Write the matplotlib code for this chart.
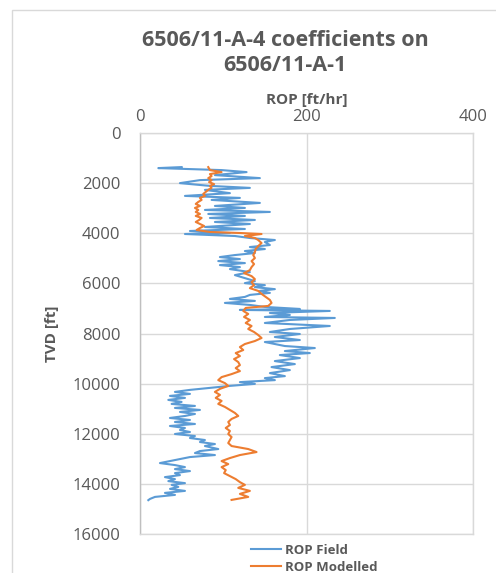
import matplotlib.pyplot as plt
from matplotlib.patches import Rectangle

# ROP Field: TVD [ft] and ROP [ft/hr]
field_tvd = [1360, 1400, 1480, 1560, 1680, 1800, 1880, 2000, 2110, 2190, 2270, 2400,
             2510, 2590, 2670, 2790, 2910, 2990, 3070, 3150, 3230, 3310, 3390, 3470,
             3550, 3630, 3750, 3830, 3910, 3990, 4030, 4110, 4190, 4270, 4350, 4470,
             4550, 4630, 4710, 4790, 4870, 4950, 5030, 5110, 5190, 5270, 5350, 5430,
             5550, 5670, 5790, 5910, 5990, 6070, 6150, 6230, 6300, 6380, 6460, 6540,
             6620, 6700, 6780, 6860, 6940, 7020, 7060, 7100, 7180, 7260, 7340, 7380,
             7460, 7580, 7700, 7820, 7940, 8020, 8140, 8260, 8340, 8420, 8500, 8580,
             8700, 8780, 8860, 8980, 9100, 9220, 9340, 9460, 9580, 9700, 9780, 9860,
             9940, 10010, 10090, 10170, 10250, 10330, 10410, 10490, 10570, 10650, 10730,
             10810, 10890, 10970, 11050, 11130, 11210, 11290, 11370, 11450, 11530, 11610,
             11690, 11770, 11850, 11930, 12010, 12090, 12170, 12250, 12330, 12410, 12490,
             12610, 12690, 12770, 12850, 12930, 13010, 13090, 13170, 13250, 13330, 13410,
             13490, 13570, 13650, 13730, 13810, 13890, 13970, 14040, 14120, 14200, 14280,
             14360, 14440, 14520, 14600, 14650]
field_rop = [50, 22, 98, 128, 90, 144, 72, 48, 84, 132, 78, 108,
             54, 120, 86, 144, 90, 126, 78, 156, 82, 126, 84, 138,
             90, 132, 78, 126, 60, 108, 54, 114, 132, 162, 150, 156,
             132, 150, 126, 138, 114, 96, 120, 94, 126, 96, 120, 108,
             132, 114, 126, 138, 126, 150, 138, 162, 144, 156, 132, 126,
             108, 138, 102, 132, 150, 192, 120, 228, 156, 180, 150, 234,
             180, 150, 228, 180, 156, 192, 162, 192, 150, 162, 174, 210,
             174, 204, 168, 192, 162, 186, 158, 180, 156, 174, 150, 162,
             120, 138, 108, 84, 60, 42, 60, 36, 54, 34, 50,
             38, 66, 42, 72, 48, 66, 54, 36, 60, 42, 66,
             36, 54, 48, 60, 42, 66, 60, 78, 72, 90, 78,
             94, 72, 66, 90, 60, 48, 36, 24, 42, 54, 42,
             60, 42, 48, 30, 42, 34, 54, 38, 46, 36, 54,
             30, 42, 18, 12, 10]

# ROP Modelled
model_tvd = [1360, 1480, 1560, 1640, 1720, 1800, 1880, 1960, 2040, 2110, 2190, 2270,
             2350, 2430, 2510, 2590, 2670, 2750, 2830, 2910, 2990, 3070, 3150, 3230,
             3310, 3390, 3470, 3550, 3630, 3710, 3790, 3870, 3950, 3990, 4030, 4110,
             4190, 4270, 4390, 4510, 4630, 4750, 4870, 4990, 5110, 5230, 5350, 5470,
             5590, 5710, 5830, 5950, 6070, 6190, 6300, 6420, 6540, 6660, 6780, 6900,
             6980, 7100, 7220, 7340, 7460, 7580, 7700, 7820, 7940, 8060, 8180, 8300,
             8420, 8540, 8660, 8780, 8900, 9020, 9140, 9260, 9380, 9500, 9620, 9740,
             9860, 9980, 10090, 10210, 10330, 10450, 10570, 10690, 10810, 10930, 11050,
             11170, 11290, 11410, 11530, 11650, 11770, 11890, 12010, 12130, 12250, 12370,
             12490, 12610, 12730, 12850, 12970, 13090, 13210, 13330, 13450, 13570, 13690,
             13810, 13930, 14040, 14160, 14280, 14400, 14520, 14640]
model_rop = [82, 84, 98, 84, 86, 82, 86, 83, 89, 84, 86, 82,
             79, 76, 78, 72, 74, 70, 67, 72, 66, 70, 67, 72,
             67, 74, 71, 67, 72, 77, 72, 68, 84, 120, 146, 126,
             138, 142, 146, 142, 139, 138, 136, 138, 134, 137, 134, 132,
             125, 134, 138, 134, 137, 132, 142, 146, 151, 156, 158, 154,
             127, 124, 130, 125, 132, 127, 134, 130, 137, 142, 146, 138,
             126, 120, 124, 115, 120, 113, 118, 120, 115, 120, 110, 98,
             94, 102, 106, 96, 90, 96, 91, 98, 94, 102, 108,
             114, 118, 110, 106, 108, 103, 108, 106, 110, 108, 106,
             110, 130, 140, 120, 108, 98, 106, 98, 103, 101, 108,
             115, 120, 126, 118, 132, 120, 130, 110]

x_ticks = [0, 200, 400]
y_ticks = [0, 2000, 4000, 6000, 8000, 10000, 12000, 14000, 16000]

grey_text = "#595959"
grid_col = "#d9d9d9"
plt.rcParams["font.family"] = ["Open Sans", "DejaVu Sans"]

fig = plt.figure(figsize=(4.96, 5.73), dpi=100)
fig.patches.append(Rectangle((12 / 496, -0.1), 1.2, 1 - 10 / 573 + 0.1,
                             transform=fig.transFigure, fill=False,
                             edgecolor=grid_col, linewidth=1.0))

ax = fig.add_axes([140 / 496, 1 - 534 / 573, 333 / 496, 401 / 573])
l1, = ax.plot(field_rop, field_tvd, color="#5B9BD5", linewidth=1.5, label="ROP Field")
l2, = ax.plot(model_rop, model_tvd, color="#ED7D31", linewidth=1.5, label="ROP Modelled")

ax.set_xlim(0, 400)
ax.set_ylim(16000, 0)
ax.set_xticks(x_ticks)
ax.set_yticks(y_ticks)
ax.xaxis.tick_top()
ax.xaxis.set_label_position("top")
ax.tick_params(length=0, labelsize=12, labelcolor=grey_text)
ax.tick_params(axis="y", pad=14)
ax.tick_params(axis="x", pad=6)
ax.grid(True, color=grid_col, linewidth=1.0)
for s in ax.spines.values():
    s.set_color(grid_col)
    s.set_linewidth(1.0)
ax.spines["left"].set_color("#bfbfbf")

ax.set_xlabel("ROP [ft/hr]", fontsize=11, fontweight="bold", color=grey_text, labelpad=3)
ax.set_ylabel("TVD [ft]", fontsize=11, fontweight="bold", color=grey_text, labelpad=10)

fig.text(0.575, 1 - 53 / 573, "6506/11-A-4 coefficients on\n6506/11-A-1",
         ha="center", va="center", fontsize=15.5, fontweight="bold",
         color=grey_text, linespacing=1.3)

leg = fig.legend(handles=[l1, l2], loc="upper left",
                 bbox_to_anchor=(244 / 496, 1 - 537 / 573), frameon=False,
                 prop={"size": 9.5, "weight": "bold"}, handlelength=2.3,
                 labelspacing=0.3, handletextpad=0.3, borderpad=0)
for t in leg.get_texts():
    t.set_color(grey_text)

fig.savefig("out.png", dpi=100)
